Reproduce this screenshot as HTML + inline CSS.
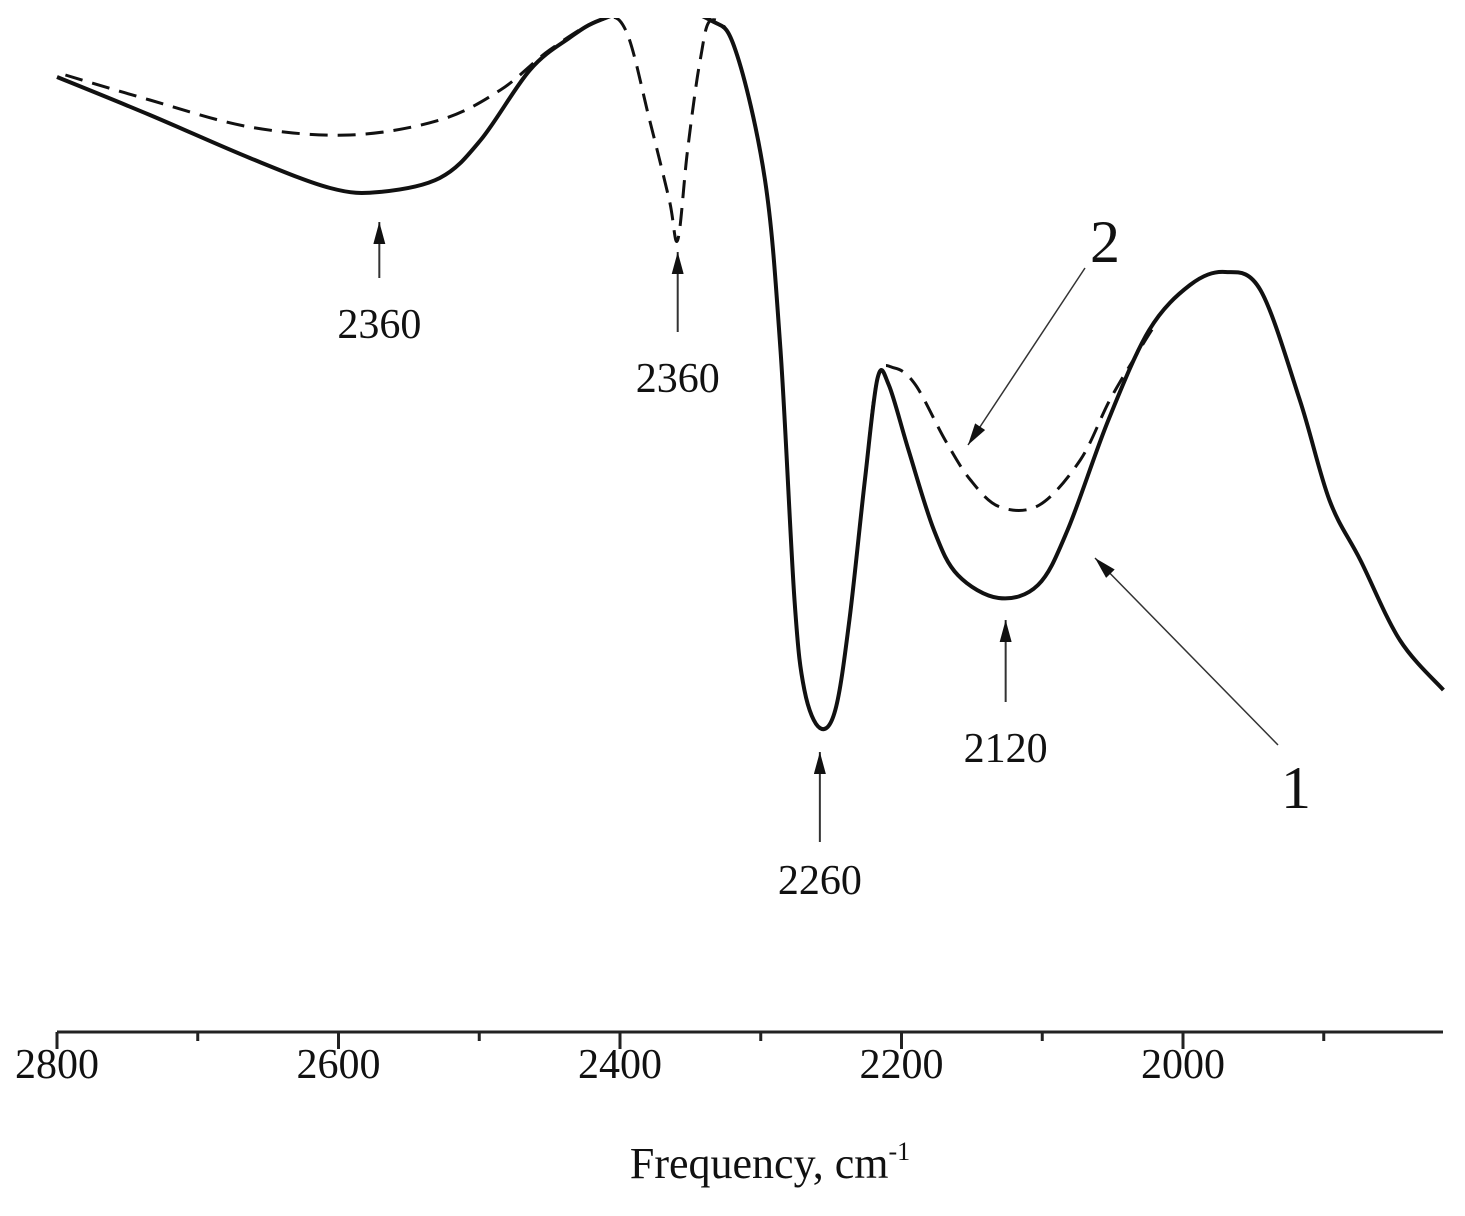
<!DOCTYPE html>
<html><head><meta charset="utf-8">
<style>
html,body{margin:0;padding:0;background:#fff;}
svg{display:block;}
text{font-family:"Liberation Serif",serif;fill:#111;}
</style></head>
<body>
<svg id="chart" width="1465" height="1216" viewBox="0 0 1465 1216" xmlns="http://www.w3.org/2000/svg">
<defs>
<clipPath id="plotclip"><rect x="0" y="18" width="1465" height="1012"/></clipPath>
<marker id="ah" viewBox="0 0 22 12" refX="22" refY="6" markerWidth="22" markerHeight="12" markerUnits="userSpaceOnUse" orient="auto">
<path d="M0,0 L22,6 L0,12 z" fill="#111"/></marker>
</defs>
<g id="axis"></g>
<g id="series" clip-path="url(#plotclip)"></g>
<g id="annot"></g>
<text x="770" y="1178" font-size="44" text-anchor="middle">Frequency, cm<tspan font-size="26" dy="-18">-1</tspan></text>
</svg>
<script>
// Data: frequency (cm-1) and relative transmittance (arbitrary units)
const curve1Freq = [2800,2734,2663,2606,2571,2528,2499,2464,2436,2414,2375,2336,2318,2297,2286,2276,2269,2258,2247,2237,2226,2217,2209,2195,2177,2160,2131,2103,2082,2053,2024,1995,1970,1945,1917,1896,1874,1846,1815];
const curve1Val  = [92.3,88.5,84.2,81.2,80.8,82.2,86.0,93.0,96.2,98.0,99.5,98.0,95.0,82.0,65.0,40.0,31.0,27.2,29.0,38.0,52.0,62.2,61.5,55.0,47.0,42.5,40.2,41.5,47.0,58.0,67.0,71.5,72.8,71.0,60.0,50.0,44.0,36.0,31.0];
const curve2Freq = [2794,2734,2663,2592,2528,2485,2450,2414,2396,2379,2365,2359,2352,2343,2335,2318,2297,2286,2276,2269,2258,2247,2237,2226,2217,2205,2190,2169,2151,2130,2102,2073,2052,2031,2020];
const curve2Val  = [92.5,90.0,87.3,86.5,88.0,91.0,95.0,98.0,97.0,88.0,80.0,76.0,85.0,94.0,98.0,95.0,82.0,65.0,40.0,31.0,27.2,29.0,38.0,52.0,62.2,63.2,61.5,56.0,52.0,49.3,49.5,54.0,60.0,65.0,67.5];
const xTicks = [2800,2700,2600,2500,2400,2300,2200,2100,2000,1900];
const xTickLabels = ["2800","","2600","","2400","","2200","","2000",""];
const annotFreq = [2571,2359,2258,2126];
const annotLabels = ["2360","2360","2260","2120"];

const NS="http://www.w3.org/2000/svg";
function X(v){return 57+(2800-v)*1.4075;}
function Y(v){return 1000-v*10;}
function mk(tag,attrs,parent){const e=document.createElementNS(NS,tag);for(const k in attrs)e.setAttribute(k,attrs[k]);parent.appendChild(e);return e;}
function smooth(pts){
  let d="M"+pts[0][0].toFixed(1)+","+pts[0][1].toFixed(1);
  for(let i=0;i<pts.length-1;i++){
    const p0=pts[i-1]||pts[i],p1=pts[i],p2=pts[i+1],p3=pts[i+2]||p2;
    const c1=[p1[0]+(p2[0]-p0[0])/6,p1[1]+(p2[1]-p0[1])/6];
    const c2=[p2[0]-(p3[0]-p1[0])/6,p2[1]-(p3[1]-p1[1])/6];
    d+=" C"+c1[0].toFixed(1)+","+c1[1].toFixed(1)+" "+c2[0].toFixed(1)+","+c2[1].toFixed(1)+" "+p2[0].toFixed(1)+","+p2[1].toFixed(1);
  }
  return d;
}
const axis=document.getElementById('axis');
const axLine=mk('line',{x1:57,y1:1032,x2:1443,y2:1032,stroke:'#222','stroke-width':3},axis);


xTicks.forEach((t,i)=>{
  const major=xTickLabels[i]!=="";
  const tk=mk('line',{x1:X(t),y1:1032,x2:X(t),y2:major?1049:1041,stroke:'#222','stroke-width':3},axis);
  
  
  if(major){
    const tl=mk('text',{x:X(t),y:1078,'font-size':42,'text-anchor':'middle'},axis);
    tl.textContent=xTickLabels[i];
    
    
  }
});
const series=document.getElementById('series');
const p2=mk('path',{d:smooth(curve2Freq.map((f,i)=>[X(f),Y(curve2Val[i])])),fill:'none',stroke:'#111','stroke-width':3,'stroke-dasharray':'18,10'},series);


const p1=mk('path',{d:smooth(curve1Freq.map((f,i)=>[X(f),Y(curve1Val[i])])),fill:'none',stroke:'#111','stroke-width':4},series);



const an=document.getElementById('annot');
const arrowTop=[222,252,752,620], arrowBot=[278,332,842,702], labelY=[338,392,894,762];
annotFreq.forEach((f,i)=>{
  const x=X(f);
  const a=mk('line',{x1:x,y1:arrowBot[i],x2:x,y2:arrowTop[i],stroke:'#333','stroke-width':2,'marker-end':'url(#ah)'},an);
  
  
  const t=mk('text',{x:x,y:labelY[i],'font-size':42,'text-anchor':'middle'},an);
  t.textContent=annotLabels[i];
  
  
});
const l1=mk('line',{x1:1278,y1:745,x2:1095,y2:558,stroke:'#333','stroke-width':1.5,'marker-end':'url(#ah)'},an);


const t1=mk('text',{x:1296,y:808,'font-size':60,'text-anchor':'middle'},an);
t1.textContent="1";


const l2=mk('line',{x1:1085,y1:268,x2:968,y2:445,stroke:'#333','stroke-width':1.5,'marker-end':'url(#ah)'},an);


const t2=mk('text',{x:1105,y:262,'font-size':60,'text-anchor':'middle'},an);
t2.textContent="2";


</script>
</body></html>
